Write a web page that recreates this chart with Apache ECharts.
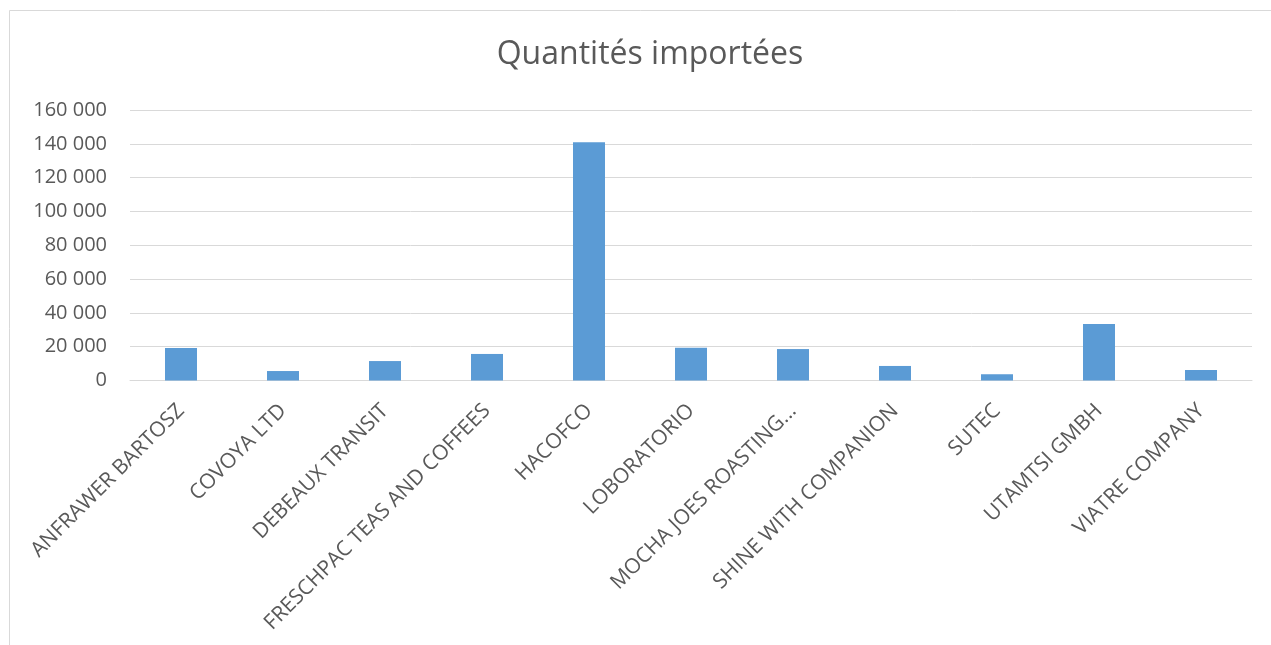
<!DOCTYPE html>
<html>
<head>
<meta charset="utf-8">
<script src="https://cdn.jsdelivr.net/npm/echarts@6/dist/echarts.min.js"></script>
<style>
html,body{margin:0;padding:0;background:#fff;}
#c{width:1271px;height:645px;}
</style>
</head>
<body>
<div id="c"></div>
<script>
const titleText = "Quantités importées";
const categories = [
  "ANFRAWER BARTOSZ", "COVOYA LTD", "DEBEAUX TRANSIT", "FRESCHPAC TEAS AND COFFEES",
  "HACOFCO", "LOBORATORIO", "MOCHA JOES ROASTING...", "SHINE WITH COMPANION",
  "SUTEC", "UTAMTSI GMBH", "VIATRE COMPANY"
];
const quantities = [19200, 5600, 11500, 15700, 140900, 19300, 18600, 8600, 3700, 33400, 6200];
const yMin = 0, yMax = 160000, yStep = 20000;

function fmt(v){ return String(v).replace(/\B(?=(\d{3})+(?!\d))/g, " "); }

const chart = echarts.init(document.getElementById('c'), null, {renderer:'canvas'});
chart.setOption({
  animation: false,
  backgroundColor: '#fff',
  textStyle: { fontFamily: 'Open Sans' },
  graphic: [{
    type: 'rect', silent: true, z: -1,
    shape: { x: 9.5, y: 10.5, width: 1400, height: 800 },
    style: { fill: 'none', stroke: '#d9d9d9', lineWidth: 1 }
  }],
  title: {
    text: titleText, left: 645, top: 34, textAlign: 'center',
    textStyle: { fontFamily: 'Open Sans', fontSize: 32, fontWeight: 'normal', color: '#595959' }
  },
  grid: { left: 130, right: 19, top: 110, bottom: 264.5, containLabel: false },
  xAxis: {
    type: 'category', data: categories,
    axisLine: { lineStyle: { color: '#d9d9d9', width: 1 } },
    axisTick: { show: false },
    axisLabel: { rotate: 45, interval: 0, fontSize: 21, color: '#595959', margin: 27,
                 fontFamily: 'Open Sans' }
  },
  yAxis: {
    type: 'value', min: yMin, max: yMax, interval: yStep,
    axisLine: { show: false }, axisTick: { show: false },
    splitLine: { lineStyle: { color: '#d9d9d9', width: 1 } },
    axisLabel: { fontSize: 20, color: '#595959', margin: 23, formatter: fmt, fontFamily: 'Open Sans' }
  },
  series: [{
    type: 'bar', data: quantities, barWidth: 32,
    itemStyle: { color: '#5b9bd5' }
  }]
});
</script>
</body>
</html>
